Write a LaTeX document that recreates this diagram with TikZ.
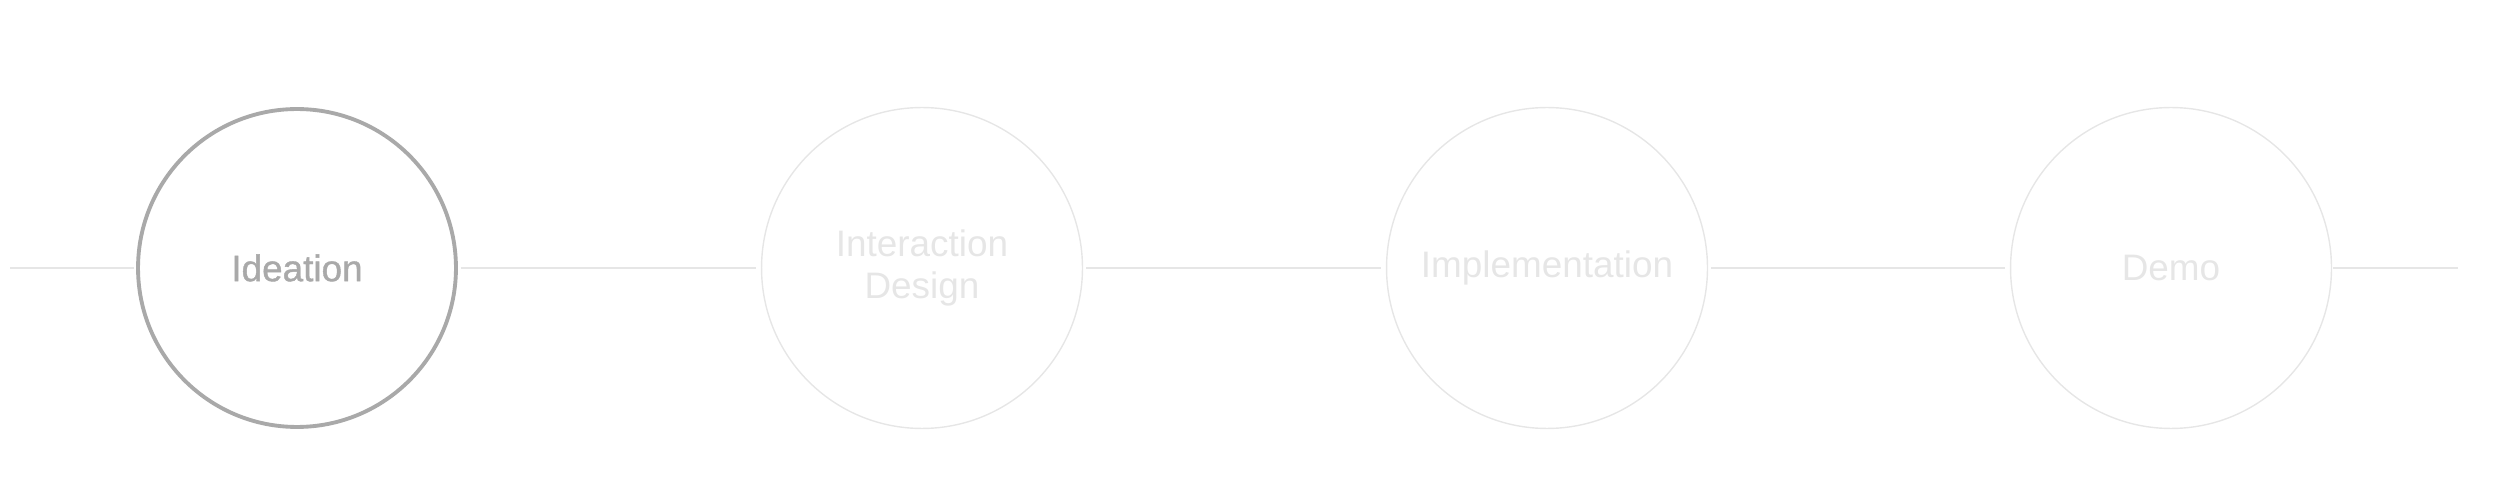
\documentclass[tikz,border=0pt]{standalone}
\usepackage{fontspec}
\setmainfont{Liberation Sans}
\newfontfamily\mediumfont{Liberation Sans}[FakeBold=1.1]
\usetikzlibrary{positioning}
\definecolor{activegray}{HTML}{A9A9A9}
\definecolor{palegray}{HTML}{E6E6E6}
\begin{document}
\begin{tikzpicture}[x=0.02cm, y=-0.02cm,
    stage/.style={circle, draw=palegray, line width=0.8pt, minimum size=6.42cm,
        text=palegray, align=center, font=\fontsize{21pt}{23.9pt}\selectfont},
    current/.style={stage, draw=activegray, line width=2.2pt, minimum size=6.36cm,
        text=activegray, font=\fontsize{21pt}{23.9pt}\mediumfont},
    link/.style={draw=palegray, line width=1.1pt, shorten <=1.5pt, shorten >=2.5pt}]
    \useasboundingbox (0, 0) rectangle (2500, 499);

    % stages
    \node[current] (ideation) at (297, 268) {Ideation};
    \node[stage] (interaction) at (922, 268) {Interaction\\Design};
    \node[stage] (implementation) at (1547, 268) {Implementation};
    \node[stage] (demo) at (2171, 268) {Demo};

    % open ends
    \coordinate (leftend) at (10, 268);
    \coordinate (rightend) at (2458, 268);

    % links
    \draw[link, shorten <=0pt, shorten >=1pt] (leftend) -- (ideation);
    \draw[link] (ideation) -- (interaction);
    \draw[link] (interaction) -- (implementation);
    \draw[link] (implementation) -- (demo);
    \draw[link, shorten <=0.5pt, shorten >=0pt] (demo) -- (rightend);
\end{tikzpicture}
\end{document}
